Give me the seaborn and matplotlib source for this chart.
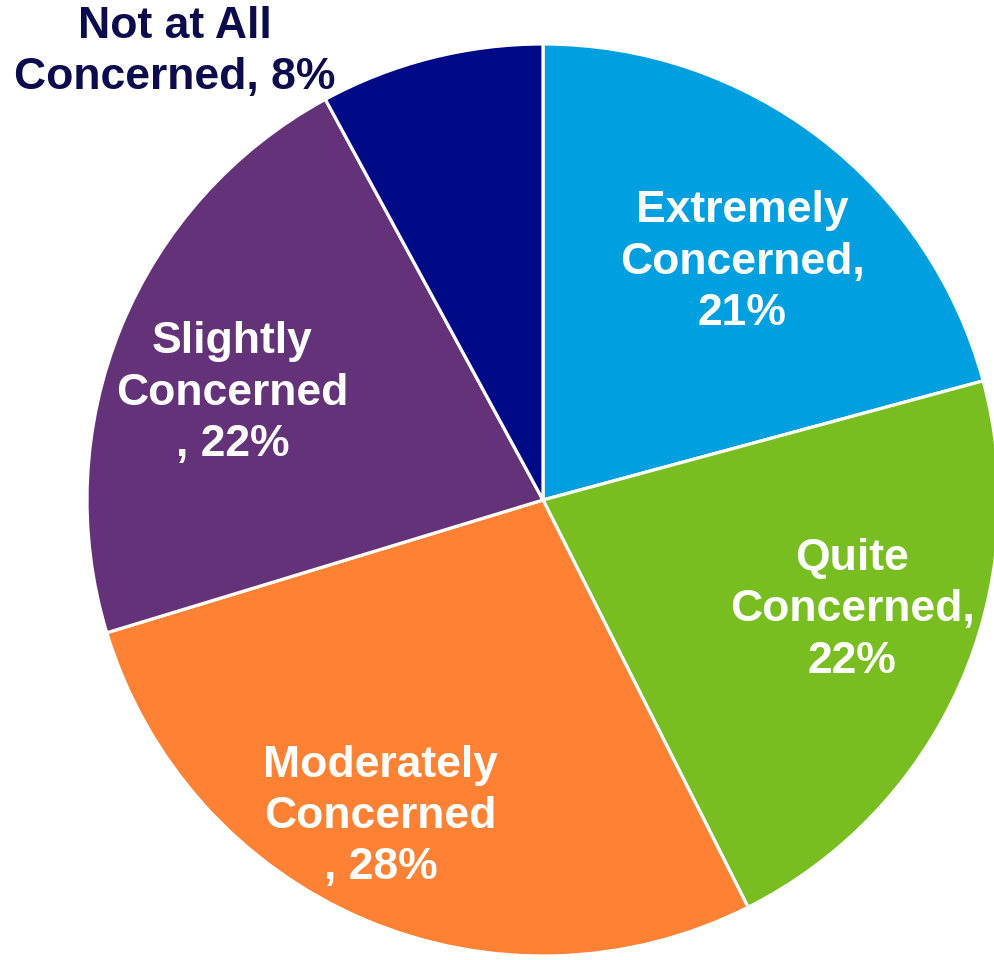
import numpy as np
import matplotlib
matplotlib.use("Agg")
import matplotlib.pyplot as plt
import seaborn as sns

# data (percent, clockwise from 12 o'clock)
categories = ["Extremely\nConcerned,", "Quite\nConcerned,", "Moderately\nConcerned\n,",
              "Slightly\nConcerned\n,", "Not at All\nConcerned,"]
values = [21, 22, 28, 22, 8]
colors = ["#009FDF", "#78BE21", "#FF8133", "#643278", "#000A87"]
# label radius as fraction of pie radius, and small angle nudges (deg)
label_r = [0.68, 0.72, 0.78, 0.72]
label_dang = [-2.5, 4.5, -4, 3.3]

sns.set_style("white")
plt.rcParams['font.family'] = ['Liberation Sans', 'DejaVu Sans']

fig = plt.figure(figsize=(9.94, 9.6), dpi=100)
ax = fig.add_axes([0, 0, 1, 1])

cx, cy, R = 543, 460, 456
wedges, _ = ax.pie(values, colors=colors, startangle=90, counterclock=False,
                   center=(cx, cy), radius=R, frame=True,
                   wedgeprops=dict(edgecolor="white", linewidth=2.3))

labels = []
for c, v in zip(categories, values):
    if c.endswith("\n,"):
        labels.append(c + " %d%%" % v)
    elif c.startswith("Not"):
        labels.append(c + " %d%%" % v)
    else:
        labels.append(c + "\n%d%%" % v)

for i, w in enumerate(wedges[:4]):
    ang = np.deg2rad((w.theta1 + w.theta2) / 2 + label_dang[i])
    r = R * label_r[i]
    ax.text(cx + r * np.cos(ang), cy + r * np.sin(ang), labels[i], ha="center", va="center",
            color="white", fontsize=32, fontweight="bold", linespacing=1.32)

# outside label for the small slice
ax.text(175, 960 - 52, labels[4], ha="center", va="center",
        color="#0B0B4D", fontsize=32, fontweight="bold", linespacing=1.32)

ax.set_xlim(0, 994)
ax.set_ylim(0, 960)
ax.set_aspect("equal")
ax.axis("off")

fig.savefig("out.png", dpi=100)
